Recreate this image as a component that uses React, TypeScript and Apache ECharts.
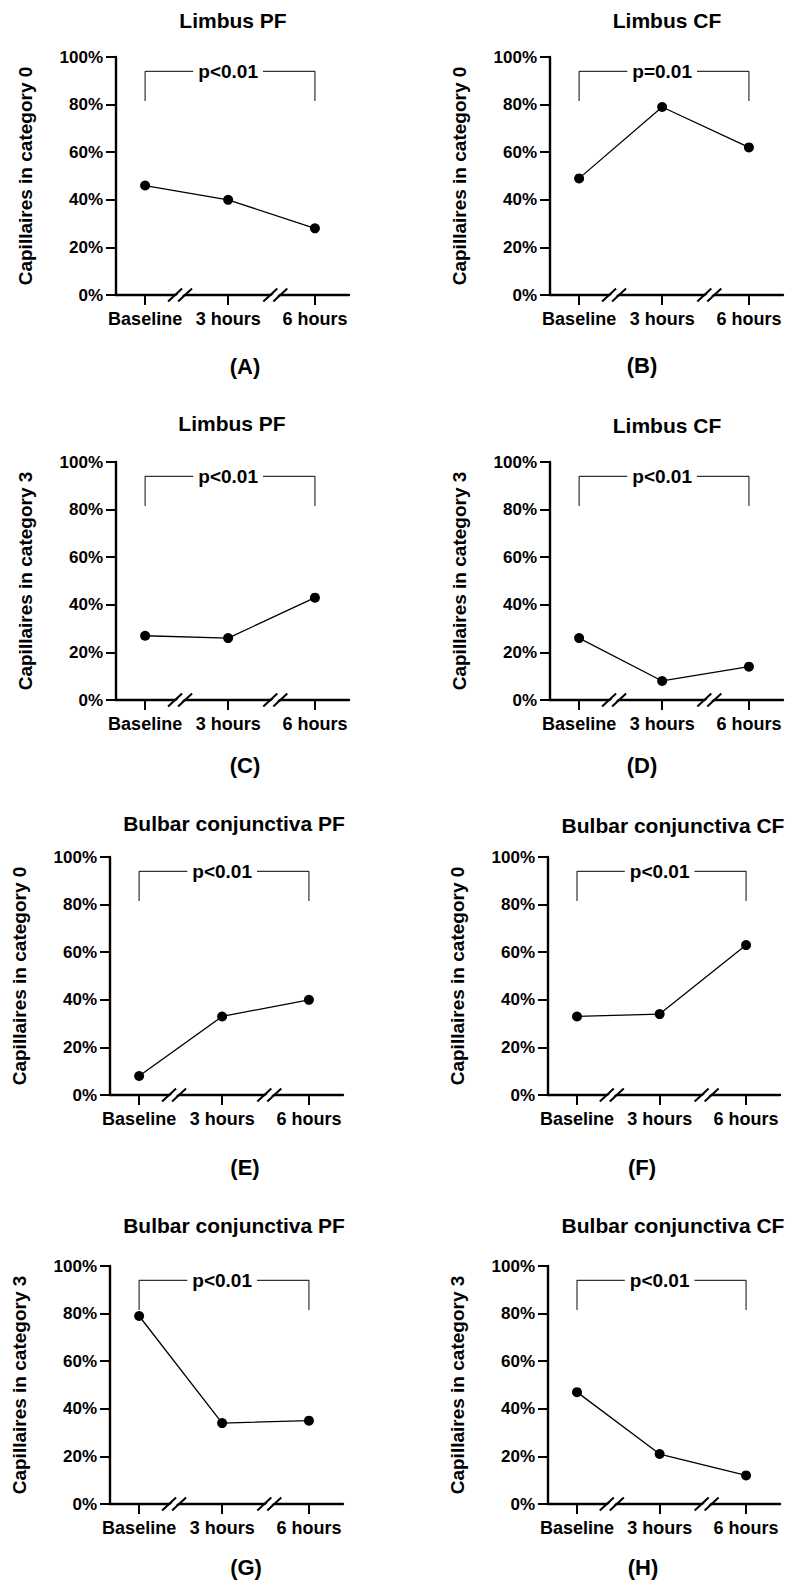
import React, { useEffect, useRef } from 'react';
import * as echarts from 'echarts';

const CATEGORIES = ['Baseline', '3 hours', '6 hours'];
const CAT_POS = [1, 3.85, 6.83];
const BREAK_POS = [2.2, 5.47];
const Y_MIN = 0;
const Y_MAX = 100;
const Y_INTERVAL = 20;

const TITLES = [
  'Limbus PF', 'Limbus CF',
  'Limbus PF', 'Limbus CF',
  'Bulbar conjunctiva PF', 'Bulbar conjunctiva CF',
  'Bulbar conjunctiva PF', 'Bulbar conjunctiva CF',
];
const Y_NAMES = [
  'Capillaires in category 0', 'Capillaires in category 0',
  'Capillaires in category 3', 'Capillaires in category 3',
  'Capillaires in category 0', 'Capillaires in category 0',
  'Capillaires in category 3', 'Capillaires in category 3',
];
const P_LABELS = ['p<0.01', 'p=0.01', 'p<0.01', 'p<0.01', 'p<0.01', 'p<0.01', 'p<0.01', 'p<0.01'];
const PANEL_LETTERS = ['(A)', '(B)', '(C)', '(D)', '(E)', '(F)', '(G)', '(H)'];

const VALUES_A = [46, 40, 28];
const VALUES_B = [49, 79, 62];
const VALUES_C = [27, 26, 43];
const VALUES_D = [26, 8, 14];
const VALUES_E = [8, 33, 40];
const VALUES_F = [33, 34, 63];
const VALUES_G = [79, 34, 35];
const VALUES_H = [47, 21, 12];
const SERIES_VALUES = [VALUES_A, VALUES_B, VALUES_C, VALUES_D, VALUES_E, VALUES_F, VALUES_G, VALUES_H];

const BRACKET_TOP = 94;
const BRACKET_BOTTOM = 81.5;

const LAYOUT = [
  { left: 116, top: 57, width: 233, height: 238, titleX: 233, titleY: 20, letterX: 245, letterY: 366 },
  { left: 550, top: 57, width: 233, height: 238, titleX: 667, titleY: 20, letterX: 642, letterY: 365 },
  { left: 116, top: 462, width: 233, height: 238, titleX: 232, titleY: 423, letterX: 245, letterY: 765 },
  { left: 550, top: 462, width: 233, height: 238, titleX: 667, titleY: 425, letterX: 642, letterY: 765 },
  { left: 110, top: 857, width: 233, height: 238, titleX: 234, titleY: 823, letterX: 245, letterY: 1167 },
  { left: 548, top: 857, width: 232, height: 238, titleX: 673, titleY: 825, letterX: 642, letterY: 1167 },
  { left: 110, top: 1266, width: 233, height: 238, titleX: 234, titleY: 1225, letterX: 246, letterY: 1567 },
  { left: 548, top: 1266, width: 232, height: 238, titleX: 673, titleY: 1225, letterX: 643, letterY: 1567 },
];

const FONT = '"Liberation Sans", Arial, Helvetica, sans-serif';

function catLabel(v: number): string {
  let best = 0;
  let bd = Infinity;
  CAT_POS.forEach((p, i) => {
    const d = Math.abs(p - v);
    if (d < bd) { bd = d; best = i; }
  });
  return CATEGORIES[best];
}

export default function App() {
  const ref = useRef<HTMLDivElement>(null);

  useEffect(() => {
    if (!ref.current) return;
    const chart = echarts.init(ref.current, undefined, { renderer: 'svg' });

    const grids: any[] = [];
    const xAxes: any[] = [];
    const yAxes: any[] = [];
    const series: any[] = [];
    const graphics: any[] = [];

    LAYOUT.forEach((L, i) => {
      grids.push({ left: L.left, top: L.top, width: L.width, height: L.height, containLabel: false });
      xAxes.push({
        type: 'value',
        gridIndex: i,
        min: 0,
        max: 8,
        splitLine: { show: false },
        axisLine: { show: true, onZero: false, lineStyle: { color: '#000', width: 2.4 } },
        axisTick: { show: true, length: 10, customValues: CAT_POS, lineStyle: { color: '#000', width: 2 } },
        axisLabel: {
          show: true,
          customValues: CAT_POS,
          formatter: (v: number) => catLabel(v),
          margin: 15,
          color: '#000',
          fontSize: 18,
          fontWeight: 'bold',
          fontFamily: FONT,
        },
      });
      yAxes.push({
        type: 'value',
        gridIndex: i,
        min: Y_MIN,
        max: Y_MAX,
        interval: Y_INTERVAL,
        name: Y_NAMES[i],
        nameLocation: 'middle',
        nameRotate: 90,
        nameGap: 81,
        nameTextStyle: { color: '#000', fontSize: 19, fontWeight: 'bold', fontFamily: FONT },
        splitLine: { show: false },
        axisLine: { show: true, lineStyle: { color: '#000', width: 2.4 } },
        axisTick: { show: true, length: 10, lineStyle: { color: '#000', width: 2 } },
        axisLabel: {
          formatter: '{value}%',
          margin: 13,
          color: '#000',
          fontSize: 17,
          fontWeight: 'bold',
          fontFamily: FONT,
        },
      });

      // bracket
      series.push({
        type: 'line',
        xAxisIndex: i,
        yAxisIndex: i,
        data: [
          [CAT_POS[0], BRACKET_BOTTOM],
          [CAT_POS[0], BRACKET_TOP],
          [CAT_POS[2], BRACKET_TOP],
          [CAT_POS[2], BRACKET_BOTTOM],
        ],
        symbol: 'none',
        lineStyle: { color: '#333', width: 1.2 },
        silent: true,
        z: 2,
      });
      // p-value label
      const pLabel = P_LABELS[i];
      series.push({
        type: 'custom',
        xAxisIndex: i,
        yAxisIndex: i,
        data: [[CAT_POS[1], BRACKET_TOP]],
        clip: false,
        z: 3,
        renderItem: (_params: any, api: any) => {
          const p = api.coord([api.value(0), api.value(1)]);
          return {
            type: 'text',
            x: p[0],
            y: p[1],
            style: {
              text: pLabel,
              fill: '#000',
              font: `bold 19px ${FONT}`,
              align: 'center',
              verticalAlign: 'middle',
              textAlign: 'center',
              textVerticalAlign: 'middle',
              backgroundColor: '#fff',
              padding: [0, 5],
            },
          };
        },
      });
      // axis breaks
      series.push({
        type: 'custom',
        xAxisIndex: i,
        yAxisIndex: i,
        data: BREAK_POS.map((b) => [b, Y_MIN]),
        clip: false,
        z: 4,
        renderItem: (_params: any, api: any) => {
          const p = api.coord([api.value(0), api.value(1)]);
          const cx = p[0];
          const cy = p[1];
          return {
            type: 'group',
            children: [
              {
                type: 'polygon',
                shape: { points: [[cx - 10, cy + 6.5], [cx + 4, cy - 6.5], [cx + 10, cy - 6.5], [cx - 4, cy + 6.5]] },
                style: { fill: '#fff' },
              },
              {
                type: 'line',
                shape: { x1: cx - 12, y1: cy + 6.5, x2: cx + 2, y2: cy - 6.5 },
                style: { stroke: '#000', lineWidth: 2 },
              },
              {
                type: 'line',
                shape: { x1: cx - 2, y1: cy + 6.5, x2: cx + 12, y2: cy - 6.5 },
                style: { stroke: '#000', lineWidth: 2 },
              },
            ],
          };
        },
      });
      // data line
      series.push({
        type: 'line',
        xAxisIndex: i,
        yAxisIndex: i,
        data: SERIES_VALUES[i].map((v, k) => [CAT_POS[k], v]),
        symbol: 'circle',
        symbolSize: 10,
        itemStyle: { color: '#000' },
        lineStyle: { color: '#000', width: 1.3 },
        z: 5,
      });

      graphics.push({
        type: 'text',
        x: L.titleX,
        y: L.titleY,
        style: {
          text: TITLES[i],
          fill: '#000',
          font: `bold 21px ${FONT}`,
          align: 'center',
          verticalAlign: 'middle',
          textAlign: 'center',
          textVerticalAlign: 'middle',
        },
      });
      graphics.push({
        type: 'text',
        x: L.letterX,
        y: L.letterY,
        style: {
          text: PANEL_LETTERS[i],
          fill: '#000',
          font: `bold 22px ${FONT}`,
          align: 'center',
          verticalAlign: 'middle',
          textAlign: 'center',
          textVerticalAlign: 'middle',
        },
      });
    });

    chart.setOption({
      animation: false,
      backgroundColor: '#fff',
      grid: grids,
      xAxis: xAxes,
      yAxis: yAxes,
      series,
      graphic: graphics,
    });

    return () => chart.dispose();
  }, []);

  return (
    <div
      ref={ref}
      style={{ position: 'absolute', left: 0, top: 0, width: 800, height: 1585, background: '#fff' }}
    />
  );
}
